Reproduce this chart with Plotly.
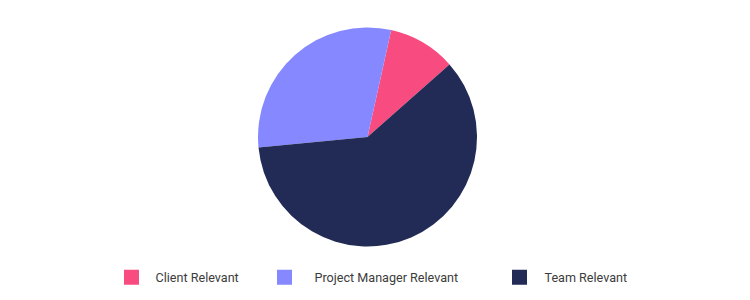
import plotly.graph_objects as go

labels = ["Client Relevant", "Project Manager Relevant", "Team Relevant"]
values = [10, 30, 60]
colors = ["#F84C80", "#8588FE", "#212B56"]
legend_x = [124, 277, 512]      # left edge of legend swatch, px
legend_gap = [38, 50, 40]        # legend item width (swatch-to-text spacing)

W, H = 750, 300

fig = go.Figure()
fig.add_trace(go.Pie(
    labels=labels,
    values=values,
    sort=False,
    direction="counterclockwise",
    rotation=12.5,
    marker=dict(colors=colors, line=dict(width=0)),
    textinfo="none",
    hoverinfo="label+percent",
    showlegend=False,
    domain=dict(x=[(367.5 - 109.5) / W, (367.5 + 109.5) / W],
                y=[1 - 246.5 / H, 1 - 27.5 / H]),
))

legend_names = ["legend", "legend2", "legend3"]
layout_legends = {}
for i, (lab, col) in enumerate(zip(labels, colors)):
    fig.add_trace(go.Scatter(
        x=[None], y=[None], mode="markers", name=lab,
        marker=dict(symbol="square", size=15, color=col, line=dict(width=0)),
        legend=legend_names[i], hoverinfo="skip",
    ))
    shift = (legend_gap[i] - 30) / 2
    layout_legends[legend_names[i]] = dict(
        x=(legend_x[i] - 12.5 - shift) / W, xanchor="left",
        y=1 - 277.5 / H, yanchor="middle",
        itemwidth=legend_gap[i],
        bgcolor="rgba(0,0,0,0)",
        font=dict(family="Roboto", size=12.6, color="#3c3c3c"),
    )

fig.update_layout(
    width=W, height=H,
    margin=dict(l=0, r=0, t=0, b=0),
    paper_bgcolor="white",
    plot_bgcolor="white",
    xaxis=dict(visible=False),
    yaxis=dict(visible=False),
    font=dict(family="Roboto", size=13, color="#3c3c3c"),
    **layout_legends,
)

fig.write_html("out.html")
